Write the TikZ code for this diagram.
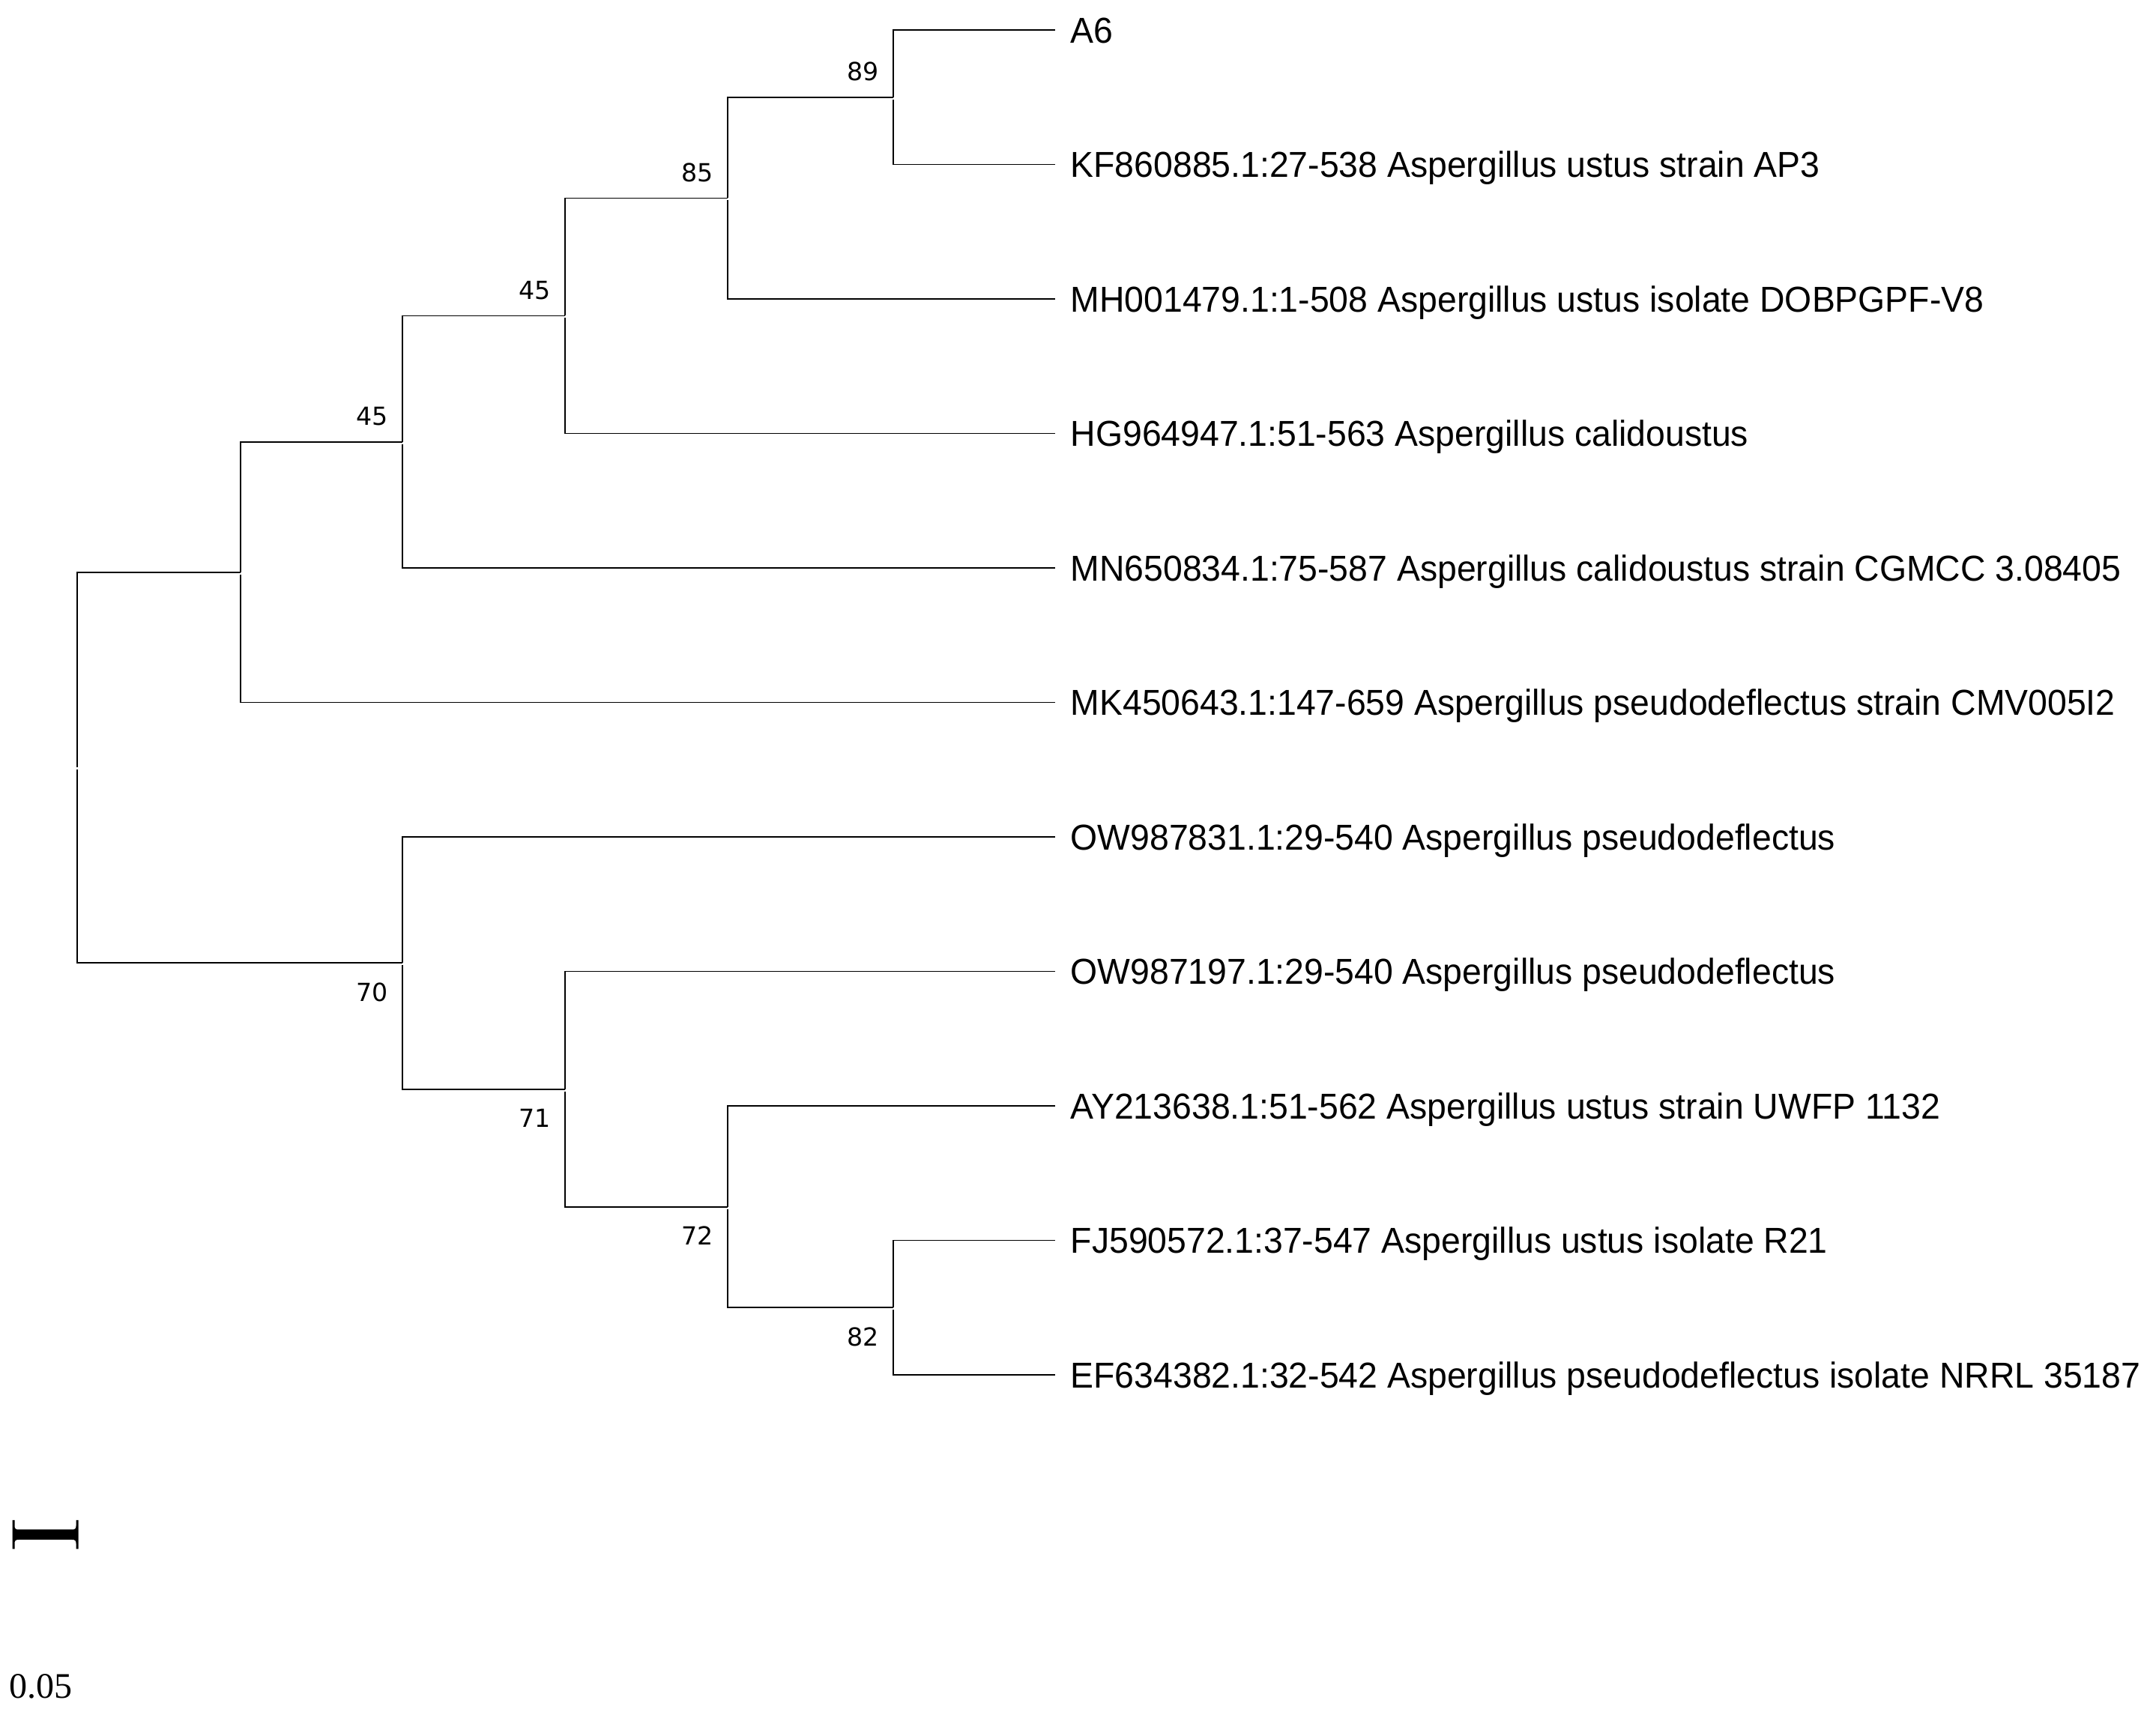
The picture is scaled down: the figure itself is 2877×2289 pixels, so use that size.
\documentclass[tikz,border=0pt]{standalone}
\usepackage{fontspec}
\setmainfont{Liberation Sans}
\newfontfamily\leaffont[FakeStretch=0.965]{Liberation Sans}
\newfontfamily\bootfont{DejaVu Sans}
\newfontfamily\barfont{Liberation Serif}
\usetikzlibrary{calc}
\tikzset{
  branch/.style={draw=black, line width=0.52pt},
  leaf/.style={anchor=west, inner xsep=0.2cm, inner ysep=0pt, text height=0.344cm, text depth=0pt, font=\leaffont\fontsize{13.66pt}{16pt}\selectfont},
  bootup/.style={anchor=south east, inner sep=0pt, font=\bootfont\fontsize{9.45pt}{11pt}\selectfont},
  bootdown/.style={anchor=north east, inner sep=0pt, font=\bootfont\fontsize{9.45pt}{11pt}\selectfont},
  scaletext/.style={anchor=base west, inner sep=0pt, font=\barfont\fontsize{13.66pt}{16pt}\selectfont}
}
\begin{document}
\begin{tikzpicture}[x=0.01cm, y=-0.01cm]
\useasboundingbox (0,0) rectangle (2877,2289);
% internal nodes
\coordinate (root) at (103,1024.5);
\coordinate (nA) at (321,763.6);
\coordinate (nB) at (537,589.75);
\coordinate (nC) at (754,421.5);
\coordinate (nD) at (971,264.5);
\coordinate (nE) at (1192,130);
\coordinate (nF) at (537,1285.3);
\coordinate (nG) at (754,1453.6);
\coordinate (nH) at (971,1610.6);
\coordinate (nI) at (1192,1745.25);
% leaves
\node[leaf] (L1) at (1408,40) {A6};
\node[leaf] (L2) at (1408,219.5) {KF860885.1:27-538 Aspergillus ustus strain AP3};
\node[leaf] (L3) at (1408,399) {MH001479.1:1-508 Aspergillus ustus isolate DOBPGPF-V8};
\node[leaf] (L4) at (1408,578.5) {HG964947.1:51-563 Aspergillus calidoustus};
\node[leaf] (L5) at (1408,758) {MN650834.1:75-587 Aspergillus calidoustus strain CGMCC 3.08405};
\node[leaf] (L6) at (1408,937.5) {MK450643.1:147-659 Aspergillus pseudodeflectus strain CMV005I2};
\node[leaf] (L7) at (1408,1117) {OW987831.1:29-540 Aspergillus pseudodeflectus};
\node[leaf] (L8) at (1408,1296.5) {OW987197.1:29-540 Aspergillus pseudodeflectus};
\node[leaf] (L9) at (1408,1476) {AY213638.1:51-562 Aspergillus ustus strain UWFP 1132};
\node[leaf] (L10) at (1408,1655.5) {FJ590572.1:37-547 Aspergillus ustus isolate R21};
\node[leaf] (L11) at (1408,1835) {EF634382.1:32-542 Aspergillus pseudodeflectus isolate NRRL 35187};
% branches
\draw[branch] (root) |- (nA);
\draw[branch] ($(root)+(0,3)$) |- (nF);
\draw[branch] (nA) |- (nB);
\draw[branch] ($(nA)+(0,3)$) |- (L6.west);
\draw[branch] (nB) |- (nC);
\draw[branch] ($(nB)+(0,3)$) |- (L5.west);
\draw[branch] (nC) |- (nD);
\draw[branch] ($(nC)+(0,3)$) |- (L4.west);
\draw[branch] (nD) |- (nE);
\draw[branch] ($(nD)+(0,3)$) |- (L3.west);
\draw[branch] (nE) |- (L1.west);
\draw[branch] ($(nE)+(0,3)$) |- (L2.west);
\draw[branch] (nF) |- (L7.west);
\draw[branch] ($(nF)+(0,3)$) |- (nG);
\draw[branch] (nG) |- (L8.west);
\draw[branch] ($(nG)+(0,3)$) |- (nH);
\draw[branch] (nH) |- (L9.west);
\draw[branch] ($(nH)+(0,3)$) |- (nI);
\draw[branch] (nI) |- (L10.west);
\draw[branch] ($(nI)+(0,3)$) |- (L11.west);
% bootstrap values
\node[bootup] (bE) at ($(nE)+(-19,-21)$) {89};
\node[bootup] (bD) at ($(nD)+(-19,-21)$) {85};
\node[bootup] (bC) at ($(nC)+(-19,-21)$) {45};
\node[bootup] (bB) at ($(nB)+(-19,-21)$) {45};
\node[bootdown] (bF) at ($(nF)+(-19,26)$) {70};
\node[bootdown] (bG) at ($(nG)+(-19,26)$) {71};
\node[bootdown] (bH) at ($(nH)+(-19,26)$) {72};
\node[bootdown] (bI) at ($(nI)+(-19,26)$) {82};
% scale bar
\fill[black] (16.5,2029) -- (16.5,2067.5) -- (19.5,2067.5) -- (19.5,2060)
  .. controls (19.5,2056) and (21,2055) .. (25,2055) -- (96,2055)
  .. controls (100,2055) and (101.5,2056) .. (101.5,2060) -- (101.5,2067.5)
  -- (104.5,2067.5) -- (104.5,2029) -- (101.5,2029) -- (101.5,2036.5)
  .. controls (101.5,2040.5) and (100,2041.5) .. (96,2041.5) -- (25,2041.5)
  .. controls (21,2041.5) and (19.5,2040.5) .. (19.5,2036.5) -- (19.5,2029) -- cycle;
\node[scaletext] (scalelab) at (12,2267) {0.05};
\end{tikzpicture}
\end{document}
